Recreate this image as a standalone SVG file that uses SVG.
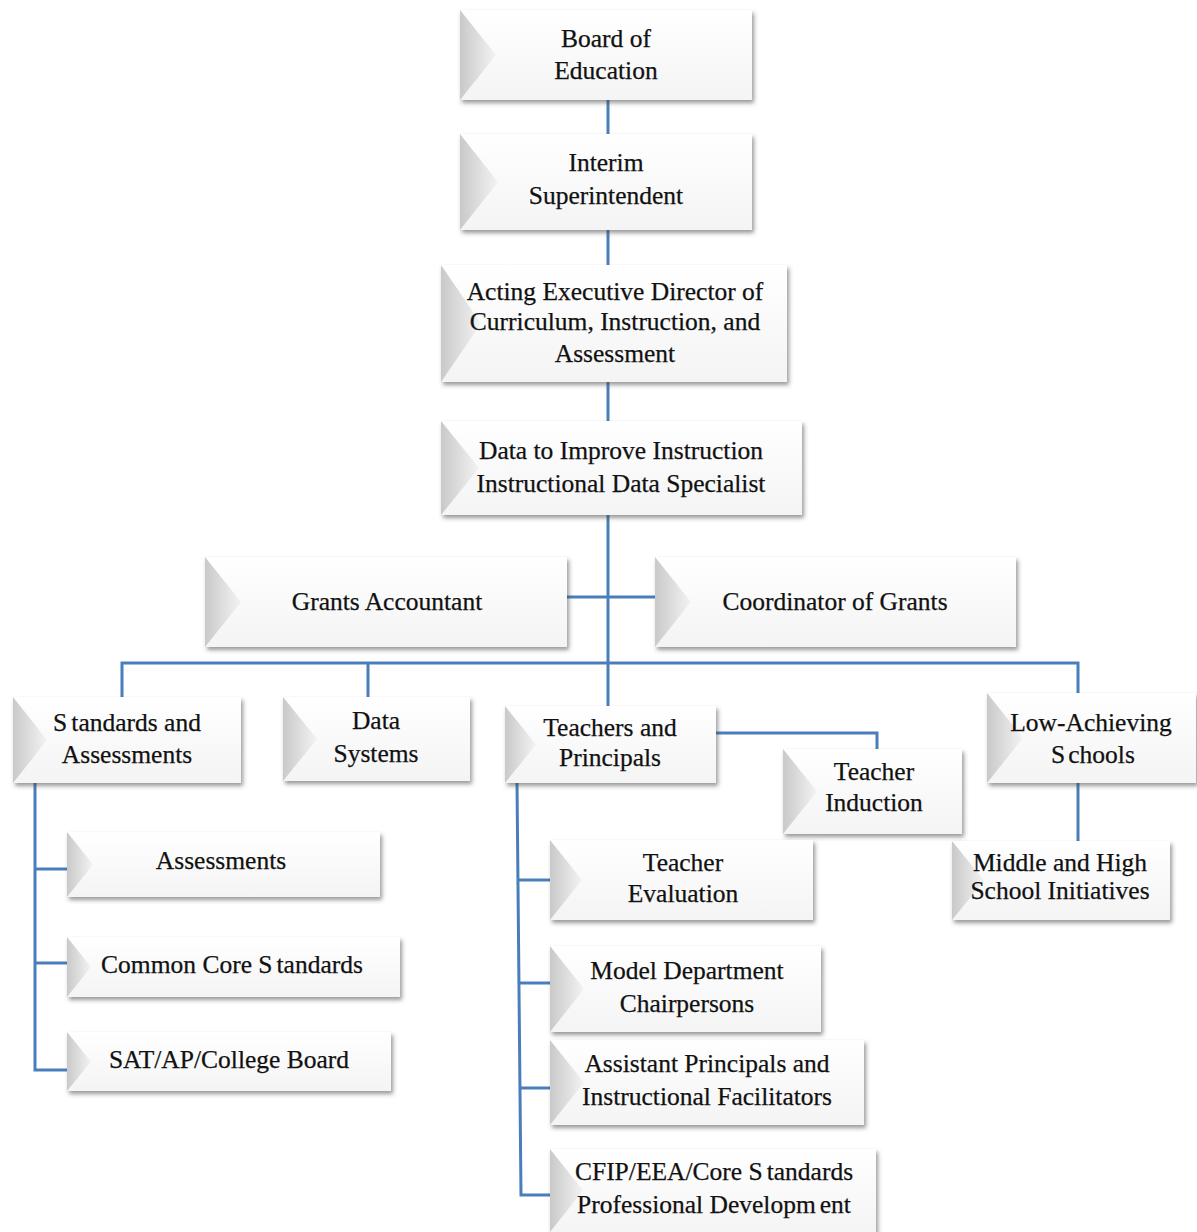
<svg xmlns="http://www.w3.org/2000/svg" width="1197" height="1232" viewBox="0 0 1197 1232">
<defs>
<filter id="sh" x="-5%" y="-10%" width="115%" height="130%">
<feDropShadow dx="2" dy="3" stdDeviation="2" flood-color="#444" flood-opacity="0.55"/>
</filter>
<linearGradient id="bev" x1="0" y1="0" x2="1" y2="0">
<stop offset="0" stop-color="#c9c9c9"/>
<stop offset="1" stop-color="#f3f3f3"/>
</linearGradient>
<linearGradient id="face" x1="0" y1="0" x2="0" y2="1">
<stop offset="0" stop-color="#ffffff"/>
<stop offset="1" stop-color="#f4f4f4"/>
</linearGradient>
</defs>
<style>
.box{fill:url(#face);filter:url(#sh);}
.bev{fill:url(#bev);}
.t{font-family:'Liberation Serif','Times New Roman',serif;font-size:25.5px;fill:#111111;text-anchor:middle;stroke:#111111;stroke-width:0.25;}
.c{stroke:#4a7ebb;stroke-width:3;fill:none;}
</style>
<rect width="1197" height="1232" fill="#ffffff"/>
<g id="connectors">
<path class="c" d="M608 100V134M608 230V265M608 382V421M608 515V706"/>
<path class="c" d="M567 597H655"/>
<path class="c" d="M122 697V663H1078V693M368 663V697"/>
<path class="c" d="M716 733H877V749"/>
<path class="c" d="M1078 783V841"/>
<path class="c" d="M35 783V1070H67M35 869H67M35 963H67"/>
<path class="c" d="M517 783L521 1195H550M518 880H550M519 983H550M520 1088H550"/>
</g>
<g id="n1"><rect class="box" x="460" y="10" width="292" height="90"/><polygon class="bev" points="460,10 496,55 460,100"/><text class="t" x="606" y="47">Board of</text><text class="t" x="606" y="79">Education</text></g>
<g id="n2"><rect class="box" x="460" y="134" width="292" height="96"/><polygon class="bev" points="460,134 498,182 460,230"/><text class="t" x="606" y="171">Interim</text><text class="t" x="606" y="204">Superintendent</text></g>
<g id="n3"><rect class="box" x="441" y="265" width="346" height="117"/><polygon class="bev" points="441,265 481,323.5 441,382"/><text class="t" x="615" y="300">Acting Executive Director of</text><text class="t" x="615" y="330">Curriculum, Instruction, and</text><text class="t" x="615" y="362">Assessment</text></g>
<g id="n4"><rect class="box" x="441" y="421" width="361" height="94"/><polygon class="bev" points="441,421 479,468 441,515"/><text class="t" x="621" y="459">Data to Improve Instruction</text><text class="t" x="621" y="492">Instructional Data Specialist</text></g>
<g id="n5"><rect class="box" x="205" y="557" width="362" height="90"/><polygon class="bev" points="205,557 241,602 205,647"/><text class="t" x="387" y="610">Grants Accountant</text></g>
<g id="n6"><rect class="box" x="655" y="557" width="361" height="90"/><polygon class="bev" points="655,557 691,602 655,647"/><text class="t" x="835" y="610">Coordinator of Grants</text></g>
<g id="n7"><rect class="box" x="13" y="697" width="228" height="86"/><polygon class="bev" points="13,697 47,740 13,783"/><text class="t" x="127" y="731">S<tspan dx="4">tandards and</tspan></text><text class="t" x="127" y="763">Assessments</text></g>
<g id="n8"><rect class="box" x="283" y="697" width="187" height="84"/><polygon class="bev" points="283,697 317,739 283,781"/><text class="t" x="376" y="729">Data</text><text class="t" x="376" y="762">Systems</text></g>
<g id="n9"><rect class="box" x="505" y="706" width="211" height="77"/><polygon class="bev" points="505,706 536,744.5 505,783"/><text class="t" x="610" y="736">Teachers and</text><text class="t" x="610" y="766">Principals</text></g>
<g id="n10"><rect class="box" x="783" y="749" width="179" height="85"/><polygon class="bev" points="783,749 817,791.5 783,834"/><text class="t" x="874" y="780">Teacher</text><text class="t" x="874" y="811">Induction</text></g>
<g id="n11"><rect class="box" x="987" y="693" width="209" height="90"/><polygon class="bev" points="987,693 1023,738 987,783"/><text class="t" x="1091" y="731">Low-Achieving</text><text class="t" x="1093" y="763">S<tspan dx="3">chools</tspan></text></g>
<g id="n12"><rect class="box" x="952" y="841" width="218" height="79"/><polygon class="bev" points="952,841 984,880.5 952,920"/><text class="t" x="1060" y="871">Middle and High</text><text class="t" x="1060" y="899">School Initiatives</text></g>
<g id="n13"><rect class="box" x="67" y="832" width="313" height="65"/><polygon class="bev" points="67,832 93,864.5 67,897"/><text class="t" x="221" y="869">Assessments</text></g>
<g id="n14"><rect class="box" x="67" y="937" width="333" height="60"/><polygon class="bev" points="67,937 91,967 67,997"/><text class="t" x="232" y="973">Common Core S<tspan dx="4">tandards</tspan></text></g>
<g id="n15"><rect class="box" x="67" y="1032" width="324" height="59"/><polygon class="bev" points="67,1032 91,1061.5 67,1091"/><text class="t" x="229" y="1068">SAT/AP/College Board</text></g>
<g id="n16"><rect class="box" x="550" y="840" width="263" height="80"/><polygon class="bev" points="550,840 582,880 550,920"/><text class="t" x="683" y="871">Teacher</text><text class="t" x="683" y="902">Evaluation</text></g>
<g id="n17"><rect class="box" x="550" y="946" width="271" height="86"/><polygon class="bev" points="550,946 584,989 550,1032"/><text class="t" x="687" y="979">Model Department</text><text class="t" x="687" y="1012">Chairpersons</text></g>
<g id="n18"><rect class="box" x="550" y="1040" width="314" height="85"/><polygon class="bev" points="550,1040 584,1082.5 550,1125"/><text class="t" x="707" y="1072">Assistant Principals and</text><text class="t" x="707" y="1105">Instructional Facilitators</text></g>
<g id="n19"><rect class="box" x="550" y="1149" width="326" height="86"/><polygon class="bev" points="550,1149 583,1190.5 550,1232"/><text class="t" x="714" y="1180">CFIP/EEA/Core S<tspan dx="4">tandards</tspan></text><text class="t" x="714" y="1213">Professional Developm<tspan dx="4">ent</tspan></text></g>
</svg>
